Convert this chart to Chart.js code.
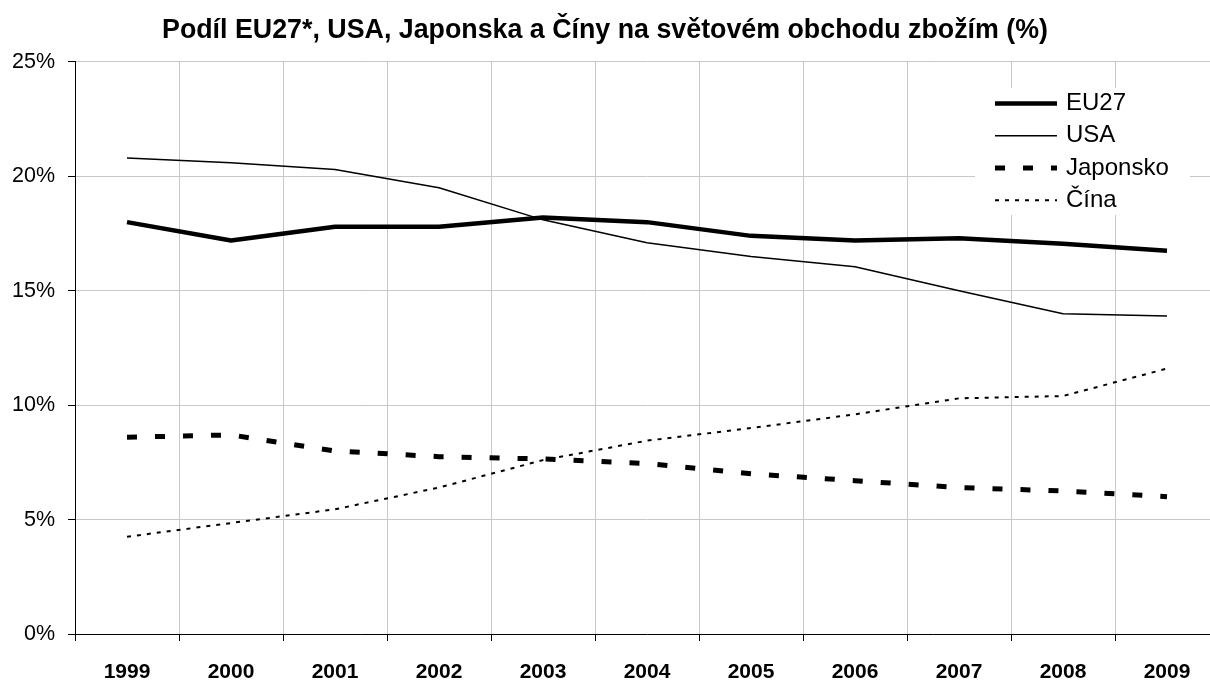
<!DOCTYPE html>
<html>
<head>
<meta charset="utf-8">
<script src="https://cdn.jsdelivr.net/npm/chart.js@4"></script>
<style>
  html, body { margin: 0; padding: 0; background: #fff; overflow: hidden; }
  #wrap { position: relative; width: 1219px; height: 686px; }
</style>
</head>
<body>
<div id="wrap"><canvas id="c"></canvas></div>
<script>
const titleText = 'Podíl EU27*, USA, Japonska a Číny na světovém obchodu zbožím (%)';
const years = ['1999','2000','2001','2002','2003','2004','2005','2006','2007','2008','2009'];
const seriesNames = ['EU27', 'USA', 'Japonsko', 'Čína'];
const eu27 = [18.0, 17.2, 17.8, 17.8, 18.2, 18.0, 17.4, 17.2, 17.3, 17.05, 16.75];
const usa = [20.8, 20.6, 20.3, 19.5, 18.1, 17.1, 16.5, 16.05, 15.0, 14.0, 13.9];
const japan = [8.6, 8.7, 8.0, 7.75, 7.65, 7.45, 7.0, 6.7, 6.4, 6.25, 6.0];
const china = [4.25, 4.85, 5.45, 6.4, 7.6, 8.45, 9.0, 9.6, 10.3, 10.4, 11.6];
const yTicks = [0, 5, 10, 15, 20, 25];

const FONT = "Arial, 'Liberation Sans', sans-serif";

const titleCenterPlugin = {
  id: 'titleCenter',
  afterLayout(chart) {
    if (chart.titleBlock) {
      chart.titleBlock.left = 0;
      chart.titleBlock.right = 1210;
    }
  }
};

const legendPlugin = {
  id: 'floatLegend',
  afterDatasetsDraw(chart) {
    const ctx = chart.ctx;
    ctx.save();
    ctx.fillStyle = '#fff';
    ctx.fillRect(975, 88, 215, 127);
    const rows = [103.5, 135.8, 167.9, 200.2];
    chart.data.datasets.forEach((ds, i) => {
      const y = rows[i];
      ctx.beginPath();
      ctx.strokeStyle = ds.borderColor;
      ctx.lineWidth = ds.borderWidth;
      ctx.lineCap = 'butt';
      ctx.setLineDash(ds.borderDash || []);
      ctx.moveTo(995, y);
      ctx.lineTo(1057, y);
      ctx.stroke();
      ctx.setLineDash([]);
      ctx.fillStyle = '#000';
      ctx.font = '24px ' + FONT;
      ctx.textBaseline = 'middle';
      ctx.textAlign = 'left';
      ctx.fillText(ds.label, 1066, y);
    });
    ctx.restore();
  }
};

new Chart(document.getElementById('c'), {
  type: 'line',
  data: {
    labels: years,
    datasets: [
      { label: seriesNames[0], data: eu27, borderColor: '#000', borderWidth: 4.5, borderDash: [] },
      { label: seriesNames[1], data: usa, borderColor: '#000', borderWidth: 1.5, borderDash: [] },
      { label: seriesNames[2], data: japan, borderColor: '#000', borderWidth: 5, borderDash: [10, 18] },
      { label: seriesNames[3], data: china, borderColor: '#000', borderWidth: 2, borderDash: [4, 6] }
    ]
  },
  options: {
    responsive: true,
    maintainAspectRatio: false,
    animation: false,
    layout: { padding: 0 },
    elements: {
      point: { radius: 0, hoverRadius: 0 },
      line: { tension: 0, fill: false, borderCapStyle: 'butt', borderJoinStyle: 'round' }
    },
    plugins: {
      legend: { display: false },
      tooltip: { enabled: false },
      title: {
        display: true,
        text: titleText,
        color: '#000',
        font: { family: FONT, size: 26.8, weight: 'bold' },
        padding: { top: 14.4, bottom: 15.4 }
      }
    },
    scales: {
      x: {
        type: 'category',
        offset: true,
        grid: { offset: true, color: '#c8c8c8', lineWidth: 1, tickColor: '#000', tickLength: 7, drawTicks: true },
        border: { color: '#000', width: 1 },
        ticks: { color: '#000', font: { family: FONT, size: 21, weight: 'bold' }, padding: 19, maxRotation: 0, autoSkip: false },
        afterFit(s) { s.height = 52; }
      },
      y: {
        min: 0,
        max: 25,
        afterBuildTicks(s) { s.ticks = yTicks.map(v => ({ value: v })); },
        grid: { color: '#c8c8c8', lineWidth: 1, tickColor: '#000', tickLength: 7 },
        border: { color: '#000', width: 1 },
        ticks: { color: '#000', font: { family: FONT, size: 21.5 }, padding: 13, callback: v => v + '%' },
        afterFit(s) { s.width = 75; }
      }
    }
  },
  plugins: [titleCenterPlugin, legendPlugin]
});
</script>
</body>
</html>
